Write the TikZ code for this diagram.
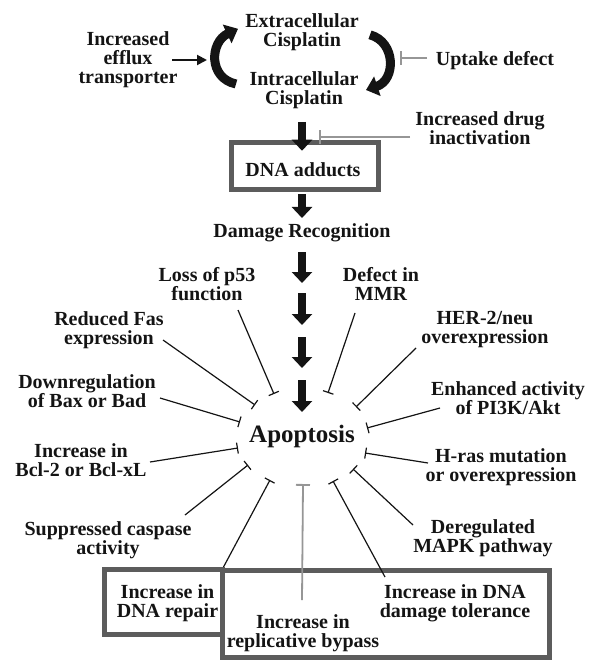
\documentclass[tikz,border=0pt]{standalone}
\usepackage{fontspec}
\setmainfont{Liberation Serif}
\usetikzlibrary{arrows.meta,calc}
\definecolor{boxgray}{RGB}{92,92,92}
\definecolor{lightline}{RGB}{150,150,150}
\definecolor{ink}{RGB}{20,20,20}
\begin{document}
\begin{tikzpicture}[x=1pt,y=-1pt,
  lbl/.style={font=\fontsize{20}{19}\selectfont\bfseries, align=center, inner sep=0pt, anchor=north, text=ink},
  fat/.style={draw=ink, line width=8.5pt, -{Triangle[width=20pt,length=11pt]}},
  curv/.style={draw=ink, line width=9pt, -{Triangle[width=20pt,length=12pt]}},
  inh/.style={draw=ink, line width=1.2pt, -{Bar[width=11pt]}},
  ginh/.style={draw=lightline, line width=1.8pt, -{Bar[width=14pt]}},
  boxframe/.style={draw=boxgray, line width=5pt, inner sep=0pt},
  thinarrow/.style={draw=ink, line width=2pt, -{Triangle[width=10pt,length=10pt]}}
]
\useasboundingbox (0,0) rectangle (588,660);

% ---- top part ----
\node[lbl] (extra) at (302,13.3) {Extracellular\\Cisplatin};
\node[lbl] (intra) at (304,71.5) {Intracellular\\Cisplatin};
\node[lbl] (efflux) at (128,31.5) {Increased\\efflux\\transporter};
\node[lbl] (uptake) at (495,51.5) {Uptake defect};
\node[lbl] (drug) at (480,111.5) {Increased drug\\inactivation};
\node[boxframe, minimum width=147pt, minimum height=47.5pt] (dna) at (304.5,166) {};
\node[lbl, anchor=base] (dnatxt) at (303,177) {DNA adducts};
\node[lbl] (dmg) at (302,223.5) {Damage Recognition};

% ---- side labels ----
\node[lbl] (p53) at (207,267.5) {Loss of p53\\function};
\node[lbl] (mmr) at (381,267.5) {Defect in\\MMR};
\node[lbl] (fas) at (109,311.5) {Reduced Fas\\expression};
\node[lbl] (her) at (485,311.5) {HER-2/neu\\overexpression};
\node[lbl] (bax) at (87,374.5) {Downregulation\\of Bax or Bad};
\node[lbl] (pik) at (508,381.5) {Enhanced activity\\of PI3K/Akt};
\node[lbl, font=\fontsize{25}{25}\selectfont\bfseries] (apop) at (302,425) {Apoptosis};
\node[lbl] (bcl) at (81,443.5) {Increase in\\Bcl-2 or Bcl-xL};
\node[lbl] (hras) at (501,448.5) {H-ras mutation\\or overexpression};
\node[lbl] (casp) at (108,521.5) {Suppressed caspase\\activity};
\node[lbl] (mapk) at (483,519.5) {Deregulated\\MAPK pathway};

% ---- bottom boxes ----
\node[boxframe, minimum width=118pt, minimum height=65pt] (box1) at (163.5,602) {};
\node[lbl] (repair) at (167.5,584.5) {Increase in\\DNA repair};
\node[boxframe, fill=white, minimum width=327pt, minimum height=87pt] (box2) at (386,613.5) {};
\node[lbl] (bypass) at (303,614.5) {Increase in\\replicative bypass};
\node[lbl] (tol) at (455,584.5) {Increase in DNA\\damage tolerance};

% ---- coordinates (free ends) ----
\coordinate (efftip) at (207,60);
\coordinate (c2) at (302,283);
\coordinate (c3) at (302,293);
\coordinate (c4) at (302,325);
\coordinate (c5) at (302,337);
\coordinate (c6) at (302,368);
\coordinate (c7) at (302,380);
\coordinate (tp53) at (274,394);
\coordinate (tmmr) at (328,393);
\coordinate (tfas) at (255,405);
\coordinate (ther) at (356,407);
\coordinate (tbax) at (240,422);
\coordinate (tpik) at (367,428);
\coordinate (tbcl) at (238,448);
\coordinate (thras) at (365,453);
\coordinate (tcasp) at (248,465);
\coordinate (tmapk) at (353,469);
\coordinate (trep) at (270,480);
\coordinate (ttol) at (333,481);
\coordinate (tbyp) at (303,484);
\coordinate (tupt) at (400,58);
\coordinate (tdrug) at (319,137);

% ---- cisplatin cycle ----
\draw[curv] ($(intra.north)+(-68,12.5)$) .. controls (208,78) and (210,42) .. ($(extra.north)+(-64,15.5)$);
\draw[curv] ($(extra.north)+(68,21.5)$) .. controls (396,42) and (396,80) .. ($(intra.north)+(62,18.5)$);
\draw[thinarrow] ($(efflux.north)+(44,28.5)$) -- (efftip);
\draw[ginh] ($(uptake.north)+(-68,6.5)$) -- (tupt);
\draw[ginh] ($(drug.north)+(-70,25.5)$) -- (tdrug);

% ---- main flow ----
\draw[fat] ($(intra.north)+(-2,50.5)$) -- ($(dna.north)+(-2.5,11)$);
\draw[fat] ($(dna.south)+(-2.5,2)$) -- ($(dmg.north)+(0,-5.5)$);
\draw[fat] ($(dmg.north)+(0,28.5)$) -- (c2);
\draw[fat] (c3) -- (c4);
\draw[fat] (c5) -- (c6);
\draw[fat] (c7) -- ($(apop.north)+(0,-13)$);

% ---- inhibitors of apoptosis ----
\draw[inh] ($(p53.north)+(31,42.5)$) -- (tp53);
\draw[inh] ($(mmr.north)+(-26,45.5)$) -- (tmmr);
\draw[inh] ($(fas.north)+(54,28.5)$) -- (tfas);
\draw[inh] ($(her.north)+(-69,36.5)$) -- (ther);
\draw[inh] ($(bax.north)+(73,23.5)$) -- (tbax);
\draw[inh] ($(pik.north)+(-68,26.5)$) -- (tpik);
\draw[inh] ($(bcl.north)+(69,18.5)$) -- (tbcl);
\draw[inh] ($(hras.north)+(-73,14.5)$) -- (thras);
\draw[inh] ($(casp.north)+(77,-6.5)$) -- (tcasp);
\draw[inh] ($(mapk.north)+(-70,5.5)$) -- (tmapk);
\draw[inh] ($(repair.north)+(56,-17.5)$) -- (trep);
\draw[inh] ($(tol.north)+(-70,-7.5)$) -- (ttol);
\draw[ginh] ($(bypass.north)+(-1,-14.5)$) -- (tbyp);
\end{tikzpicture}
\end{document}
